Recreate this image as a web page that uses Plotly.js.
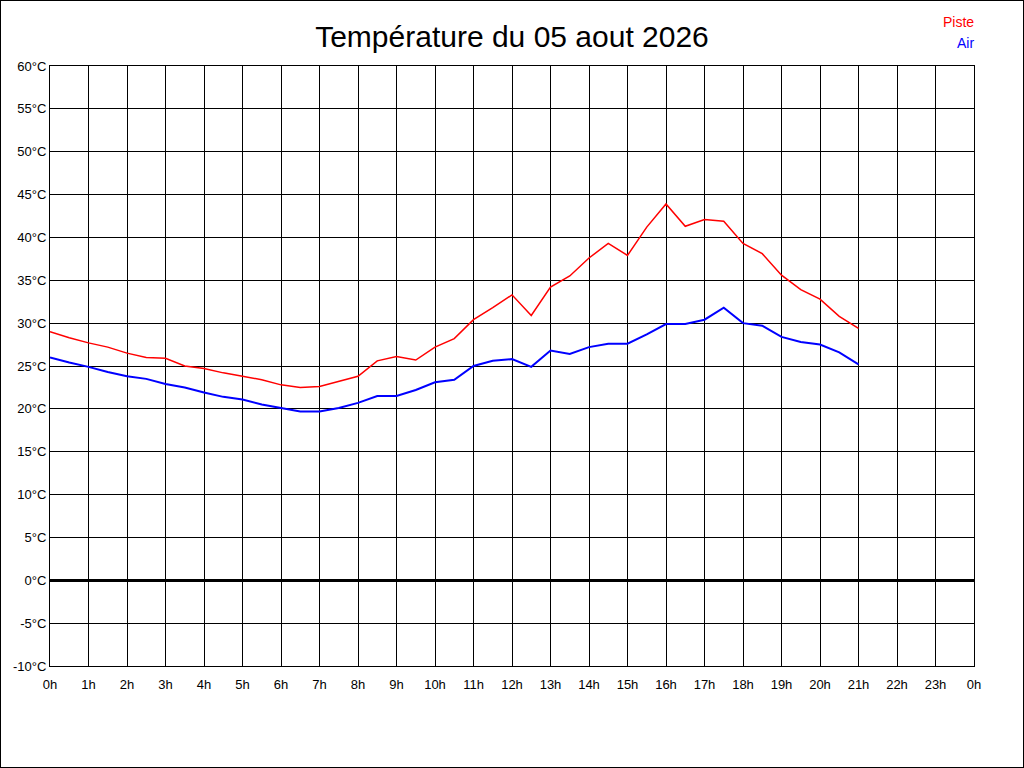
<!DOCTYPE html>
<html>
<head>
<meta charset="utf-8">
<script src="https://cdn.plot.ly/plotly-3.0.1.min.js"></script>
<style>
  body { margin: 0; background: #fff; }
  #wrap { position: relative; width: 1024px; height: 768px; }
  #frame { position: absolute; left: 0; top: 0; width: 1022px; height: 766px; border: 1px solid #000; pointer-events: none; }
</style>
</head>
<body>
<div id="wrap">
  <div id="myDiv" style="width:1024px;height:768px;"></div>
  <div id="frame"></div>
</div>
<script>
// half-hour readings, 0h -> 21h
var hours = [0, 0.5, 1, 1.5, 2, 2.5, 3, 3.5, 4, 4.5, 5, 5.5, 6, 6.5, 7, 7.5, 8, 8.5, 9, 9.5,
             10, 10.5, 11, 11.5, 12, 12.5, 13, 13.5, 14, 14.5, 15, 15.5, 16, 16.5, 17, 17.5,
             18, 18.5, 19, 19.5, 20, 20.5, 21];

var piste = [29.0, 28.3, 27.7, 27.2, 26.5, 26.0, 25.9, 25.0, 24.7, 24.2, 23.8, 23.4, 22.8, 22.5, 22.6, 23.2,
             23.8, 25.6, 26.1, 25.7, 27.2, 28.2, 30.4, 31.8, 33.3, 30.9, 34.2, 35.5, 37.6, 39.3,
             37.9, 41.2, 43.9, 41.3, 42.1, 41.9, 39.3, 38.1, 35.6, 33.9, 32.8, 30.8, 29.4];

var air = [26.0, 25.4, 24.9, 24.3, 23.8, 23.5, 22.9, 22.5, 21.9, 21.4, 21.1, 20.5, 20.1, 19.7, 19.7, 20.1,
           20.7, 21.5, 21.5, 22.2, 23.1, 23.4, 25.0, 25.6, 25.8, 24.9, 26.8, 26.4, 27.2, 27.6,
           27.6, 28.7, 29.9, 29.9, 30.4, 31.8, 30.0, 29.7, 28.4, 27.8, 27.5, 26.6, 25.2];

var hourTicks = [0, 1, 2, 3, 4, 5, 6, 7, 8, 9, 10, 11, 12, 13, 14, 15, 16, 17, 18, 19, 20, 21, 22, 23, 24];
var hourLabels = ['0h', '1h', '2h', '3h', '4h', '5h', '6h', '7h', '8h', '9h', '10h', '11h', '12h',
                  '13h', '14h', '15h', '16h', '17h', '18h', '19h', '20h', '21h', '22h', '23h', '0h'];
var tempTicks = [-10, -5, 0, 5, 10, 15, 20, 25, 30, 35, 40, 45, 50, 55, 60];
var tempLabels = tempTicks.map(function (t) { return t + '°C'; });

var data = [
  {x: hours, y: piste, name: 'Piste', mode: 'lines', line: {color: '#ff0000', width: 1.5}},
  {x: hours, y: air, name: 'Air', mode: 'lines', line: {color: '#0000ff', width: 2}}
];

var layout = {
  width: 1024,
  height: 768,
  margin: {l: 50, r: 50, t: 66, b: 102},
  paper_bgcolor: '#fff',
  plot_bgcolor: '#fff',
  showlegend: false,
  font: {family: 'Liberation Sans, Arial, sans-serif', size: 13, color: '#000'},
  title: {text: 'Température du 05 aout 2026', x: 0.5, xanchor: 'center', y: 0.953, yanchor: 'middle',
          font: {family: 'Liberation Sans, Arial, sans-serif', size: 30, color: '#000'}},
  xaxis: {
    range: [0, 24], tickvals: hourTicks, ticktext: hourLabels,
    showgrid: true, gridcolor: '#000', gridwidth: 1,
    showline: true, linecolor: '#000', linewidth: 1, mirror: true,
    zeroline: false, ticks: '', ticklen: 0, ticklabelstandoff: 6, fixedrange: true
  },
  yaxis: {
    range: [-10, 60], tickvals: tempTicks, ticktext: tempLabels,
    showgrid: true, gridcolor: '#000', gridwidth: 1,
    showline: true, linecolor: '#000', linewidth: 1, mirror: true,
    zeroline: true, zerolinecolor: '#000', zerolinewidth: 3,
    ticks: '', ticklen: 0, fixedrange: true
  },
  annotations: [
    {text: 'Piste', xref: 'paper', yref: 'paper', x: 1.002, y: 1.074, xanchor: 'right', yanchor: 'middle',
     showarrow: false, font: {color: '#ff0000', size: 14}},
    {text: 'Air', xref: 'paper', yref: 'paper', x: 1.002, y: 1.038, xanchor: 'right', yanchor: 'middle',
     showarrow: false, font: {color: '#0000ff', size: 14}}
  ]
};

Plotly.newPlot('myDiv', data, layout, {displayModeBar: false, staticPlot: true});
</script>
</body>
</html>
